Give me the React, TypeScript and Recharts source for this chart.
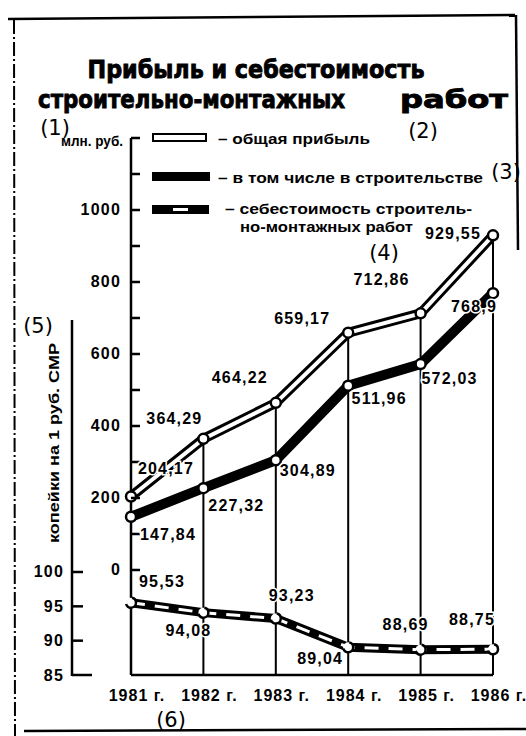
import { LineChart, Line, XAxis, YAxis, ReferenceLine, LabelList } from 'recharts';

const years = [1981, 1982, 1983, 1984, 1985, 1986];
const totalProfit = [204.17, 364.29, 464.22, 659.17, 712.86, 929.55];
const buildingProfit = [147.84, 227.32, 304.89, 511.96, 572.03, 768.9];
const costPerRuble = [95.53, 94.08, 93.23, 89.04, 88.69, 88.75];

const mlnTicks = [0, 100, 200, 300, 400, 500, 600, 700, 800, 900, 1000, 1100, 1200];
const mlnLabeled = [0, 200, 400, 600, 800, 1000];
const kopTicks = [85, 90, 95, 100];

// label placement relative to each point (dx, dy)
const totalLabelOffset = [[35, -28], [-29, -20], [-36, -25], [-46, -14], [-39, -34], [-40, -2]];
const buildingLabelOffset = [[37, 18], [33, 17], [32, 10], [31, 13], [29, 14], [-19, 13]];
const costLabelOffset = [[31, -21], [-15, 18], [16, -23], [-28, 11], [-15, -25], [-21, -30]];

const MLN_MIN = -291.7;
const MLN = 'a_mln';
const KOP = 'b_kop';

const data = years.map((year, i) => ({
  year,
  total: totalProfit[i],
  building: buildingProfit[i],
  cost: costPerRuble[i],
}));

const FONT = '"Liberation Sans", Arial, sans-serif';
const TITLE_FONT = '"DejaVu Sans", sans-serif';

const fmt = (v: number) => String(v).replace('.', ',');

const makeLabel = (offsets: number[][]) => (props: any) => {
  const { x, y, value, index } = props;
  const [dx, dy] = offsets[index] || [0, 0];
  return (
    <text
      x={x + dx}
      y={y + dy}
      textAnchor="middle"
      dominantBaseline="central"
      fontFamily={FONT}
      fontWeight="bold"
      fontSize={16}
      letterSpacing={1.2}
      fill="#000"
      stroke="#fff"
      strokeWidth={3}
      paintOrder="stroke"
    >
      {fmt(value)}
    </text>
  );
};

const MlnTick = (props: any) => {
  const { x, y, payload } = props;
  return (
    <g>
      <line x1={x} y1={y} x2={x + 9} y2={y} stroke="#000" strokeWidth={2.5} />
      {mlnLabeled.includes(payload.value) && (
        <text x={x - 10} y={y} textAnchor="end" dominantBaseline="central"
          fontFamily={FONT} fontWeight="bold" fontSize={16} letterSpacing={1.2} fill="#000">
          {payload.value}
        </text>
      )}
    </g>
  );
};

const KopTick = (props: any) => {
  const { x, y, payload } = props;
  const last = payload.value === 85;
  return (
    <g>
      <line x1={x} y1={y} x2={x + (last ? 20 : 11)} y2={y} stroke="#000" strokeWidth={2.5} />
      {last && <line x1={x} y1={y + 1} x2={x} y2={y - 355} stroke="#000" strokeWidth={2.5} />}
      <text x={x - 8} y={y} textAnchor="end" dominantBaseline="central"
        fontFamily={FONT} fontWeight="bold" fontSize={16} letterSpacing={1.2} fill="#000">
        {payload.value}
      </text>
    </g>
  );
};

const YearTick = (props: any) => {
  const { x, y, payload } = props;
  return (
    <text x={x + 6} y={y + 20} textAnchor="middle" dominantBaseline="central"
      fontFamily={FONT} fontWeight="bold" fontSize={16} letterSpacing={1} fill="#000">
      {payload.value} г.
    </text>
  );
};

const dot = { r: 5, fill: '#fff', stroke: '#000', strokeWidth: 2.5 };

const Overlay = () => (
  <svg width={526} height={736} style={{ position: 'absolute', left: 0, top: 0, pointerEvents: 'none' }}>
    {/* frame */}
    <line x1={8} y1={19} x2={515} y2={15} stroke="#000" strokeWidth={2.5} />
    <line x1={516} y1={15} x2={518} y2={250} stroke="#000" strokeWidth={2.5} />
    <line x1={14} y1={20} x2={15} y2={736} stroke="#000" strokeWidth={2} strokeDasharray="14 3 2 3" />
    <line x1={24} y1={731} x2={526} y2={729} stroke="#000" strokeWidth={2.5} />

    {/* title */}
    <g fontFamily={TITLE_FONT} fontWeight="bold" fontSize={25} fill="#000" stroke="#000" strokeWidth={0.9}>
      <text x={256} y={78} textAnchor="middle" textLength={337} lengthAdjust="spacingAndGlyphs">
        Прибыль и себестоимость
      </text>
      <text x={38} y={108} textLength={307} lengthAdjust="spacingAndGlyphs">
        строительно-монтажных
      </text>
      <text x={400} y={108} textLength={108} lengthAdjust="spacingAndGlyphs">
        работ
      </text>
    </g>

    {/* legend */}
    <rect x={153} y={134} width={53} height={7} fill="#fff" stroke="#000" strokeWidth={2} />
    <text x={218} y={138} dominantBaseline="central" fontFamily={FONT} fontWeight="bold" fontSize={15}
      textLength={152} lengthAdjust="spacingAndGlyphs">
      – общая прибыль
    </text>
    <rect x={152} y={172} width={58} height={9} fill="#000" />
    <text x={218} y={177} dominantBaseline="central" fontFamily={FONT} fontWeight="bold" fontSize={15}
      textLength={265} lengthAdjust="spacingAndGlyphs">
      – в том числе в строительстве
    </text>
    <rect x={152} y={205} width={57} height={9} fill="#000" />
    <rect x={173} y={208} width={15} height={3} fill="#fff" />
    <text x={225} y={208} dominantBaseline="central" fontFamily={FONT} fontWeight="bold" fontSize={15}
      textLength={247} lengthAdjust="spacingAndGlyphs">
      – себестоимость строитель-
    </text>
    <text x={240} y={226} dominantBaseline="central" fontFamily={FONT} fontWeight="bold" fontSize={15}
      textLength={173} lengthAdjust="spacingAndGlyphs">
      но-монтажных работ
    </text>

    {/* axis captions */}
    <text x={92} y={141} textAnchor="middle" dominantBaseline="central" fontFamily={FONT} fontWeight="bold"
      fontSize={14} textLength={62} lengthAdjust="spacingAndGlyphs">
      млн. руб.
    </text>
    <text x={54} y={443} textAnchor="middle" dominantBaseline="central" fontFamily={FONT} fontWeight="bold"
      fontSize={14} textLength={200} lengthAdjust="spacingAndGlyphs" transform="rotate(-90 54 443)">
      копейки на 1 руб. СМР
    </text>

    {/* reference marks */}
    <g fontFamily={TITLE_FONT} fontSize={21} fill="#000">
      <text x={55} y={128} textAnchor="middle" dominantBaseline="central">(1)</text>
      <text x={423} y={131} textAnchor="middle" dominantBaseline="central">(2)</text>
      <text x={506} y={172} textAnchor="middle" dominantBaseline="central">(3)</text>
      <text x={384} y={253} textAnchor="middle" dominantBaseline="central">(4)</text>
      <text x={38} y={326} textAnchor="middle" dominantBaseline="central">(5)</text>
      <text x={171} y={720} textAnchor="middle" dominantBaseline="central">(6)</text>
    </g>
  </svg>
);

export default function App() {
  return (
    <div style={{ position: 'absolute', left: 0, top: 0, width: 526, height: 736, background: '#fff' }}>
      <LineChart
        width={526}
        height={736}
        data={data}
        margin={{ top: 138, right: 33, bottom: 31, left: 0 }}
      >
        <XAxis
          dataKey="year"
          type="number"
          domain={[1981, 1986]}
          ticks={years}
          height={30}
          tickSize={0}
          tickMargin={0}
          tickLine={false}
          axisLine={{ stroke: '#000', strokeWidth: 2.5 }}
          tick={<YearTick />}
        />
        <YAxis
          yAxisId={MLN}
          domain={[MLN_MIN, 1200]}
          ticks={mlnTicks}
          allowDataOverflow
          width={59}
          tickSize={0}
          tickMargin={0}
          tickLine={false}
          axisLine={{ stroke: '#000', strokeWidth: 2.5 }}
          tick={<MlnTick />}
        />
        <YAxis
          yAxisId={KOP}
          domain={[85, 163.2]}
          ticks={kopTicks}
          allowDataOverflow
          width={72}
          tickSize={0}
          tickMargin={0}
          tickLine={false}
          axisLine={false}
          tick={<KopTick />}
        />
        {years.map((yr, i) => (
          <ReferenceLine
            key={yr}
            yAxisId={MLN}
            ifOverflow="visible"
            segment={[{ x: yr, y: totalProfit[i] }, { x: yr, y: MLN_MIN }]}
            stroke="#000"
            strokeWidth={2}
          />
        ))}
        <Line yAxisId={MLN} dataKey="total" stroke="#000" strokeWidth={10} dot={false} isAnimationActive={false} />
        <Line yAxisId={MLN} dataKey="total" stroke="#fff" strokeWidth={4} dot={dot} isAnimationActive={false}>
          <LabelList dataKey="total" content={makeLabel(totalLabelOffset)} />
        </Line>
        <Line yAxisId={MLN} dataKey="building" stroke="#000" strokeWidth={10} dot={dot} isAnimationActive={false}>
          <LabelList dataKey="building" content={makeLabel(buildingLabelOffset)} />
        </Line>
        <Line yAxisId={KOP} dataKey="cost" stroke="#000" strokeWidth={9} dot={false} isAnimationActive={false} />
        <Line yAxisId={KOP} dataKey="cost" stroke="#fff" strokeWidth={3} strokeDasharray="14 10" dot={dot}
          isAnimationActive={false}>
          <LabelList dataKey="cost" content={makeLabel(costLabelOffset)} />
        </Line>
      </LineChart>
      <Overlay />
    </div>
  );
}
